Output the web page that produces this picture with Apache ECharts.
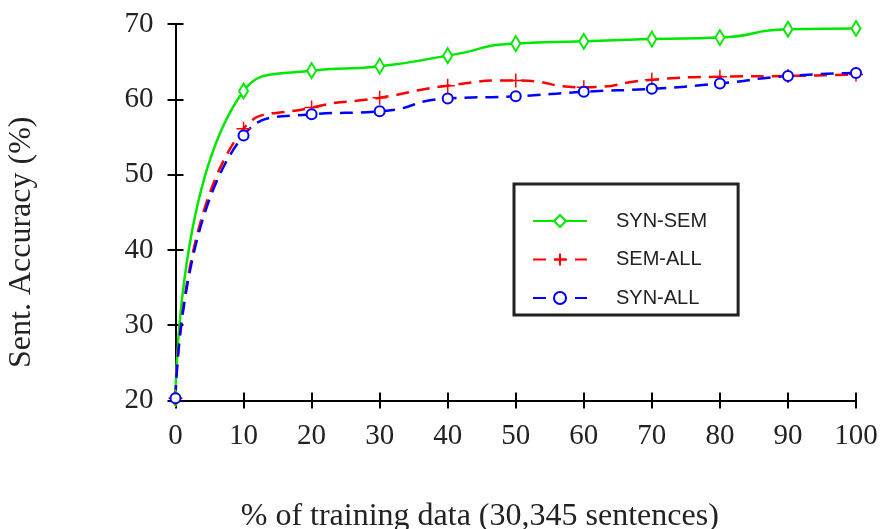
<!DOCTYPE html>
<html>
<head>
<meta charset="utf-8">
<script src="https://cdn.jsdelivr.net/npm/echarts@6/dist/echarts.min.js"></script>
<style>html,body{margin:0;padding:0;background:#fff}#c{width:882px;height:529px}</style>
</head>
<body>
<div id="c"></div>
<script>
var xValues = [0, 10, 20, 30, 40, 50, 60, 70, 80, 90, 100];
var synSem = [20.3, 61.1, 63.8, 64.4, 65.8, 67.4, 67.7, 68.0, 68.2, 69.3, 69.4];
var semAll = [20.3, 56.1, 58.9, 60.2, 61.8, 62.5, 61.6, 62.6, 63.0, 63.1, 63.3];
var synAll = [20.3, 55.2, 58.0, 58.4, 60.1, 60.4, 61.0, 61.4, 62.1, 63.1, 63.5];
var seriesNames = ['SYN-SEM', 'SEM-ALL', 'SYN-ALL'];
var xTitle = '% of training data (30,345 sentences)';
var yTitle = 'Sent. Accuracy (%)';

function pairs(ys) { return xValues.map(function (x, i) { return [x, ys[i]]; }); }

var serif = 'Liberation Serif';
var chart = echarts.init(document.getElementById('c'), null, {renderer: 'canvas'});
var axisBase = {
  axisLine: {show: true, lineStyle: {color: '#000', width: 2}},
  splitLine: {show: false}
};
chart.setOption({
  animation: false,
  backgroundColor: '#fff',
  grid: {left: 175.5, right: 26, top: 24, bottom: 128.5, containLabel: false, outerBoundsMode: 'none'},
  xAxis: [
    Object.assign({}, axisBase, {
      type: 'value', min: 0, max: 100, interval: 10, position: 'bottom',
      axisTick: {show: true, inside: false, length: 8, lineStyle: {color: '#000', width: 2}},
      axisLabel: {fontFamily: serif, fontSize: 29, color: '#222', margin: 21},
      name: xTitle, nameLocation: 'middle', nameGap: 100,
      nameTextStyle: {fontFamily: serif, fontSize: 32, color: '#222', padding: [0, 72, 0, 0]}
    }),
    Object.assign({}, axisBase, {
      type: 'value', min: 0, max: 100, interval: 10, position: 'bottom',
      axisTick: {show: true, inside: true, length: 8, lineStyle: {color: '#000', width: 2}},
      axisLabel: {show: false}
    })
  ],
  yAxis: [
    Object.assign({}, axisBase, {
      type: 'value', min: 20, max: 70, interval: 10, position: 'left',
      axisTick: {show: true, inside: false, length: 8, lineStyle: {color: '#000', width: 2}},
      axisLabel: {fontFamily: serif, fontSize: 29, color: '#222', margin: 22},
      name: yTitle, nameLocation: 'middle', nameGap: 138, nameRotate: 90,
      nameTextStyle: {fontFamily: serif, fontSize: 32, color: '#222', padding: [0, 60, 0, 0]}
    }),
    Object.assign({}, axisBase, {
      type: 'value', min: 20, max: 70, interval: 10, position: 'left',
      axisTick: {show: true, inside: true, length: 8, lineStyle: {color: '#000', width: 2}},
      axisLabel: {show: false}
    })
  ],
  legend: {
    orient: 'vertical',
    left: 514, top: 184,
    data: seriesNames,
    borderColor: '#222', borderWidth: 3,
    padding: [27, 31, 7, 18],
    itemWidth: 54, itemHeight: 15, itemGap: 18.5,
    textStyle: {fontFamily: 'Liberation Sans', fontSize: 20, color: '#222', lineHeight: 20, padding: [0, 0, 0, 24]},
    backgroundColor: '#fff'
  },
  series: [
    {
      name: seriesNames[0], type: 'line', data: pairs(synSem), smooth: 0.6,
      symbol: 'emptyDiamond', symbolSize: [9, 15],
      lineStyle: {color: '#00e800', width: 2.5},
      itemStyle: {color: '#00e800', borderColor: '#00e800', borderWidth: 1}
    },
    {
      name: seriesNames[1], type: 'line', data: pairs(semAll), smooth: 0.6,
      symbol: 'path://M0,7L14,7M7,0L7,14', symbolSize: 14,
      lineStyle: {color: '#ff0000', width: 2.5, type: [13, 8]},
      itemStyle: {color: '#ff0000', borderColor: '#ff0000', borderWidth: 1.5}
    },
    {
      name: seriesNames[2], type: 'line', data: pairs(synAll), smooth: 0.6,
      symbol: 'emptyCircle', symbolSize: 10,
      lineStyle: {color: '#0000ff', width: 2.5, type: [13, 8]},
      itemStyle: {color: '#0000ff', borderColor: '#0000ff', borderWidth: 1}
    }
  ]
});
</script>
</body>
</html>
